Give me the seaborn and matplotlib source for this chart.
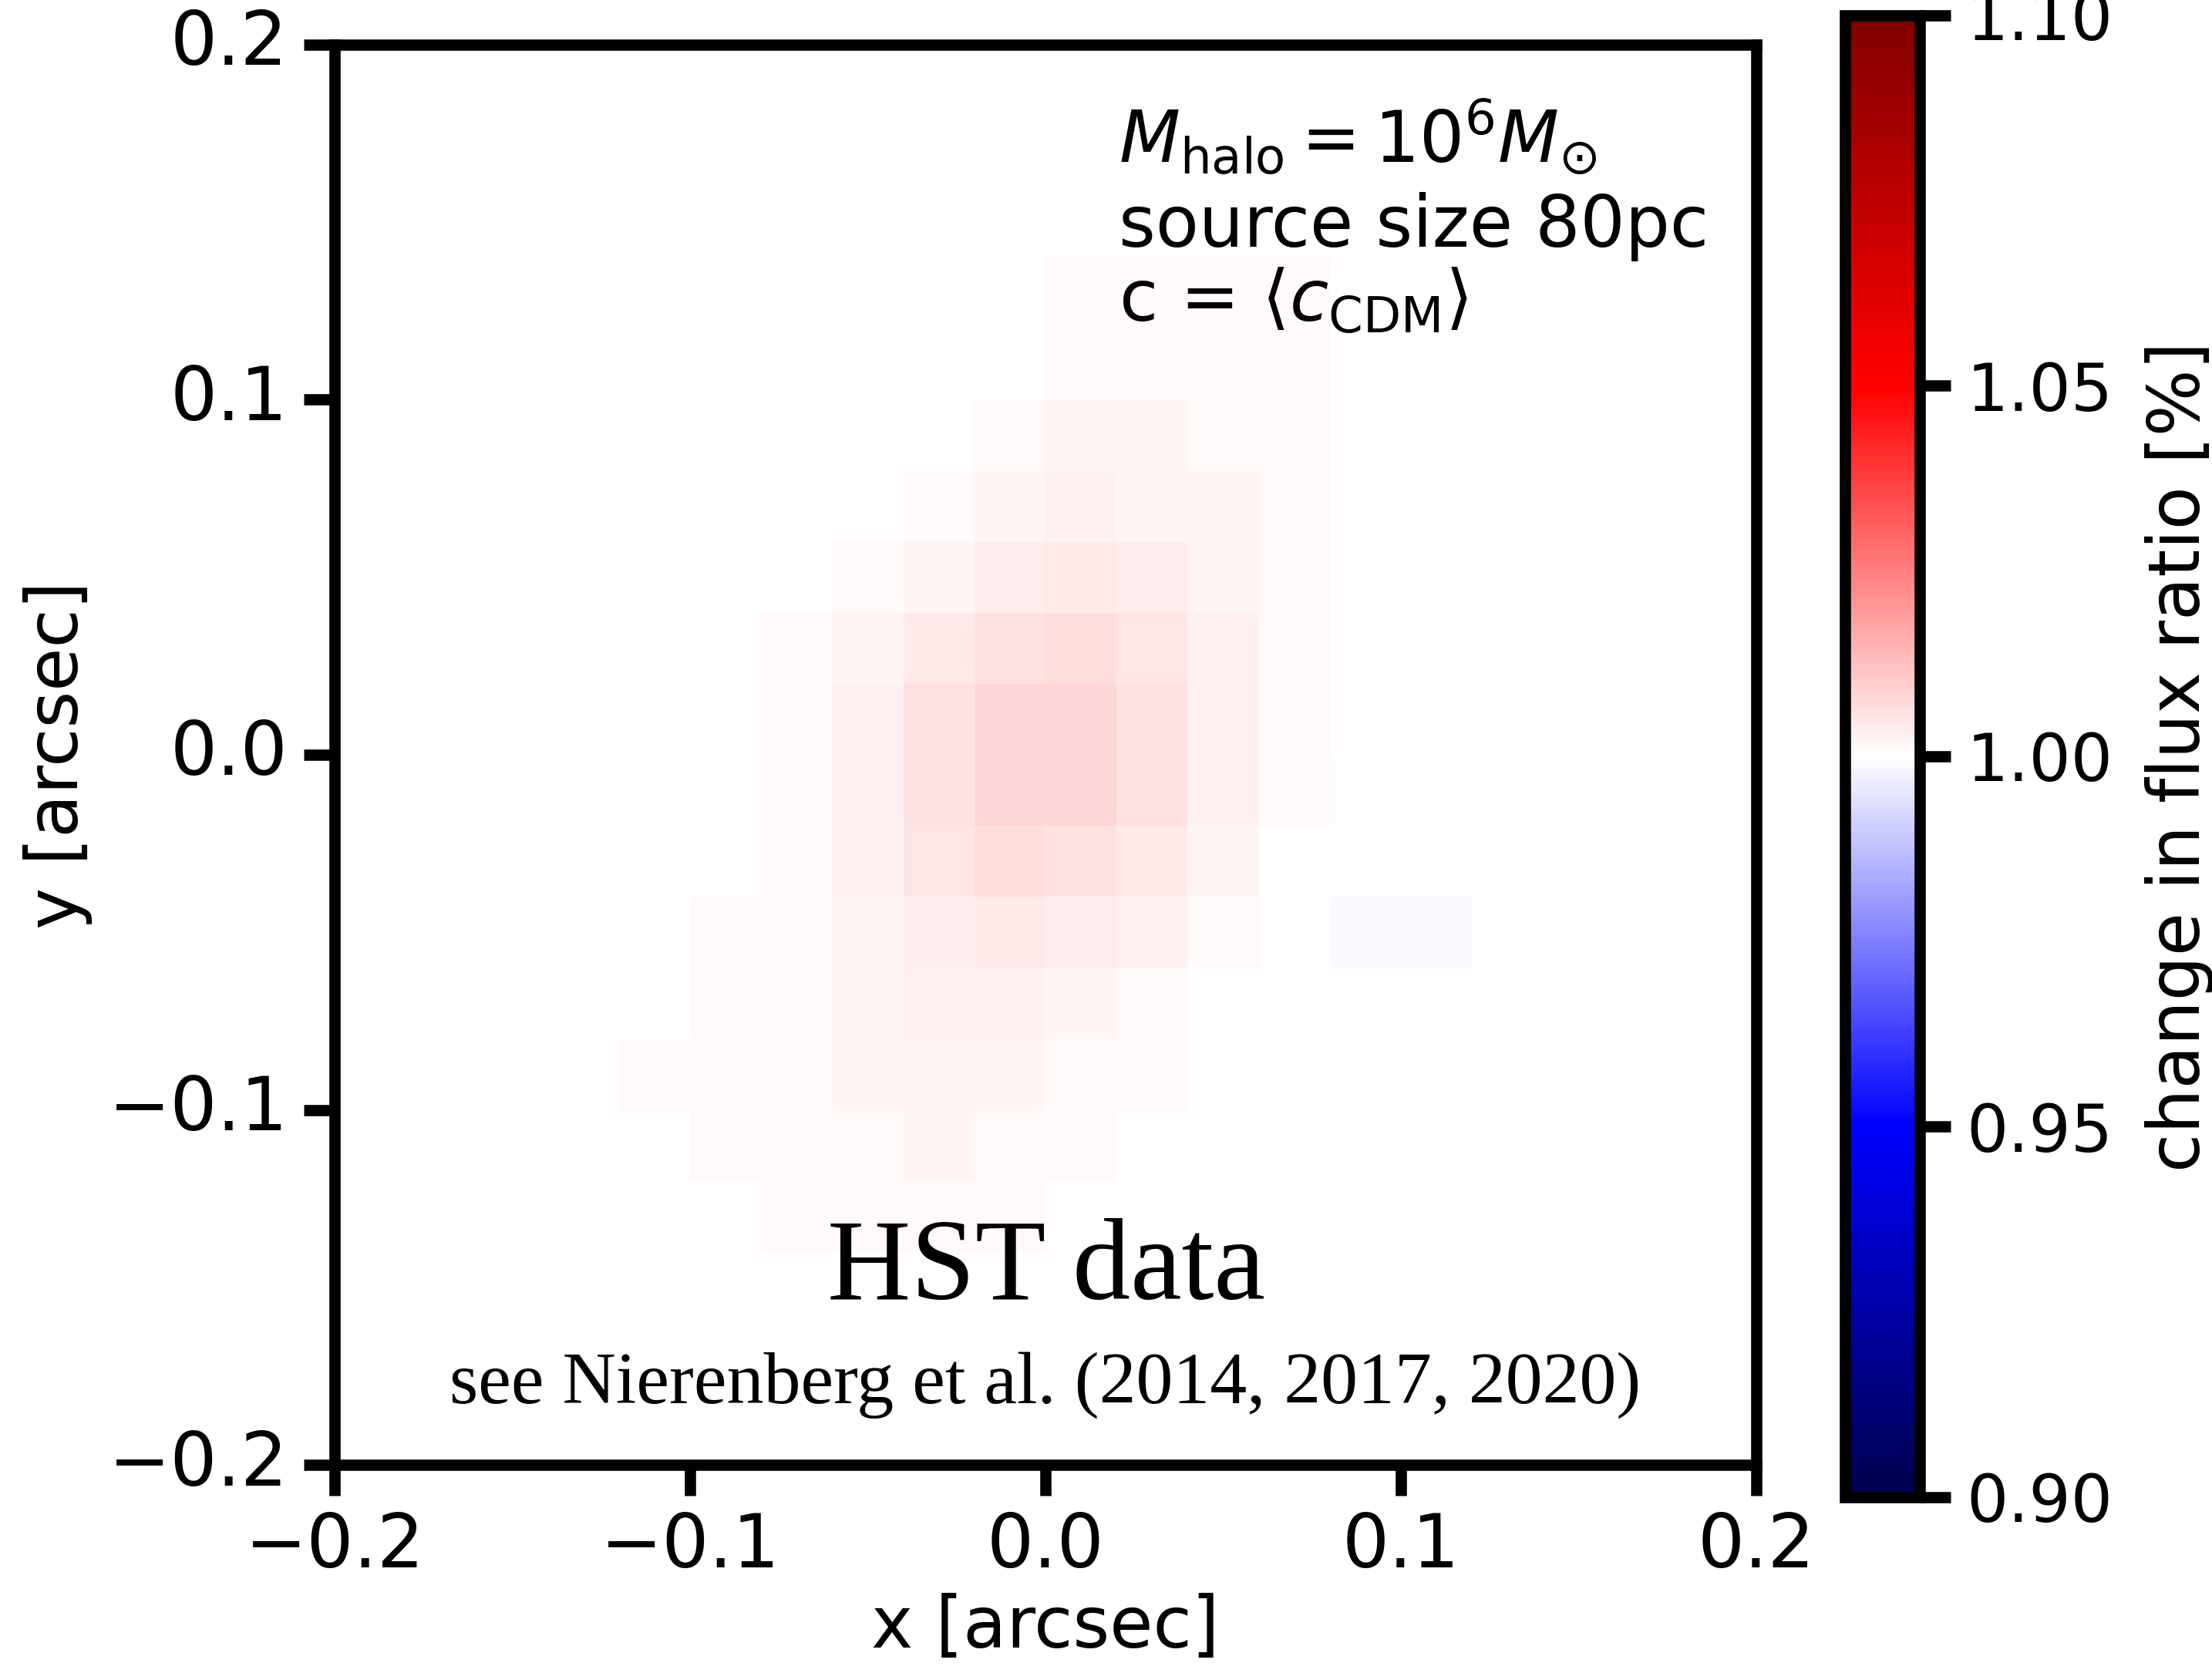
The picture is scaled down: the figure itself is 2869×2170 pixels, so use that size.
import matplotlib
matplotlib.use("Agg")
import matplotlib.pyplot as plt
from matplotlib.ticker import FormatStrFormatter
import pandas as pd
import seaborn as sns

# ---------------- data ----------------
x_centers = [-0.19, -0.17, -0.15, -0.13, -0.11, -0.09, -0.07, -0.05, -0.03, -0.01,
             0.01, 0.03, 0.05, 0.07, 0.09, 0.11, 0.13, 0.15, 0.17, 0.19]
y_centers = [0.19, 0.17, 0.15, 0.13, 0.11, 0.09, 0.07, 0.05, 0.03, 0.01,
             -0.01, -0.03, -0.05, -0.07, -0.09, -0.11, -0.13, -0.15, -0.17, -0.19]

flux_ratio = [
    [0.9996, 0.9996, 0.9996, 0.9996, 0.9996, 0.9996, 0.9996, 0.9996, 0.9997, 0.9997, 0.9997, 0.9998, 0.9998, 0.9998, 0.9998, 1.0000, 1.0000, 1.0000, 1.0000, 1.0000],
    [0.9996, 0.9996, 0.9996, 0.9996, 0.9996, 0.9996, 0.9996, 0.9996, 0.9997, 0.9997, 0.9998, 0.9999, 1.0000, 0.9999, 0.9998, 1.0001, 1.0000, 1.0000, 1.0000, 1.0000],
    [0.9996, 0.9996, 0.9996, 0.9996, 0.9996, 0.9996, 0.9996, 0.9996, 0.9999, 1.0000, 1.0002, 1.0003, 1.0003, 1.0002, 1.0001, 1.0001, 1.0000, 1.0000, 1.0000, 1.0000],
    [0.9996, 0.9996, 0.9996, 0.9996, 0.9996, 0.9996, 0.9996, 0.9996, 0.9999, 1.0005, 1.0008, 1.0010, 1.0010, 1.0008, 1.0005, 1.0001, 1.0000, 1.0000, 1.0000, 1.0000],
    [0.9996, 0.9996, 0.9996, 0.9996, 0.9996, 0.9996, 0.9996, 0.9998, 1.0005, 1.0007, 1.0011, 1.0013, 1.0012, 1.0009, 1.0005, 1.0002, 1.0000, 1.0000, 1.0000, 1.0000],
    [0.9996, 0.9996, 0.9996, 0.9996, 0.9996, 0.9996, 0.9996, 1.0004, 1.0007, 1.0011, 1.0016, 1.0017, 1.0014, 1.0009, 1.0005, 1.0002, 0.9999, 0.9999, 0.9999, 0.9999],
    [0.9996, 0.9996, 0.9996, 0.9996, 0.9996, 0.9996, 1.0000, 1.0006, 1.0012, 1.0019, 1.0025, 1.0023, 1.0017, 1.0010, 1.0005, 1.0001, 0.9998, 0.9998, 0.9998, 0.9998],
    [0.9996, 0.9996, 0.9996, 0.9996, 0.9996, 0.9996, 1.0005, 1.0011, 1.0023, 1.0036, 1.0040, 1.0033, 1.0020, 1.0010, 1.0005, 0.9997, 0.9997, 0.9997, 0.9997, 0.9997],
    [0.9997, 0.9997, 0.9997, 0.9997, 0.9997, 1.0004, 1.0008, 1.0020, 1.0040, 1.0061, 1.0064, 1.0048, 1.0026, 1.0011, 1.0002, 0.9996, 0.9996, 0.9996, 0.9996, 0.9996],
    [0.9998, 0.9998, 0.9998, 0.9998, 0.9998, 1.0005, 1.0011, 1.0027, 1.0056, 1.0082, 1.0083, 1.0059, 1.0029, 1.0012, 1.0001, 0.9996, 0.9996, 0.9996, 0.9996, 0.9996],
    [1.0001, 1.0001, 1.0001, 1.0001, 1.0001, 1.0005, 1.0012, 1.0029, 1.0059, 1.0083, 1.0082, 1.0056, 1.0027, 1.0008, 0.9998, 0.9996, 0.9996, 0.9996, 0.9996, 0.9996],
    [1.0004, 1.0004, 1.0004, 1.0004, 1.0004, 1.0006, 1.0012, 1.0027, 1.0049, 1.0065, 1.0062, 1.0041, 1.0021, 1.0003, 0.9995, 0.9994, 0.9996, 0.9996, 0.9996, 0.9996],
    [1.0007, 1.0007, 1.0007, 1.0007, 1.0007, 1.0008, 1.0013, 1.0023, 1.0036, 1.0043, 1.0039, 1.0026, 1.0010, 0.9999, 0.9990, 0.9990, 0.9996, 0.9996, 0.9996, 0.9996],
    [1.0007, 1.0007, 1.0007, 1.0007, 1.0007, 1.0008, 1.0013, 1.0020, 1.0026, 1.0028, 1.0022, 1.0015, 1.0005, 0.9998, 0.9993, 0.9993, 0.9996, 0.9996, 0.9996, 0.9996],
    [1.0007, 1.0007, 1.0007, 1.0007, 1.0008, 1.0008, 1.0012, 1.0017, 1.0020, 1.0019, 1.0014, 1.0008, 1.0004, 0.9997, 0.9997, 0.9997, 0.9997, 0.9997, 0.9997, 0.9997],
    [1.0006, 1.0006, 1.0006, 1.0006, 1.0007, 1.0008, 1.0012, 1.0015, 1.0016, 1.0014, 1.0010, 1.0006, 1.0002, 0.9997, 0.9997, 0.9997, 0.9997, 0.9997, 0.9997, 0.9997],
    [1.0003, 1.0003, 1.0003, 1.0003, 1.0006, 1.0007, 1.0010, 1.0012, 1.0012, 1.0010, 1.0007, 1.0003, 0.9997, 0.9997, 0.9997, 0.9997, 0.9997, 0.9997, 0.9997, 0.9997],
    [1.0002, 1.0002, 1.0002, 1.0002, 1.0003, 1.0005, 1.0006, 1.0007, 1.0007, 1.0006, 1.0004, 1.0002, 0.9997, 0.9997, 0.9997, 0.9997, 0.9997, 0.9997, 0.9997, 0.9997],
    [1.0002, 1.0002, 1.0002, 1.0002, 1.0002, 1.0003, 1.0004, 1.0005, 1.0004, 1.0003, 1.0002, 1.0002, 0.9997, 0.9997, 0.9997, 0.9997, 0.9997, 0.9997, 0.9997, 0.9997],
    [1.0002, 1.0002, 1.0002, 1.0002, 1.0002, 1.0003, 1.0003, 1.0003, 1.0003, 1.0002, 1.0002, 1.0002, 0.9997, 0.9997, 0.9997, 0.9997, 0.9997, 0.9997, 0.9997, 0.9997],
]

axis_ticks = [-0.2, -0.1, 0.0, 0.1, 0.2]
axis_lim = [-0.2, 0.2]
cbar_ticks = [0.90, 0.95, 1.00, 1.05, 1.10]
cbar_range = [0.90, 1.10]

annot_lines = [r"$M_{\rm halo} = 10^6 M_{\odot}$",
               "source size 80pc",
               r"c = $\langle c_{\rm CDM}\rangle$"]
title_text = "HST data"
ref_text = "see Nierenberg et al. (2014, 2017, 2020)"

# ---------------- style ----------------
plt.rcParams['font.family'] = ['DejaVu Sans']
plt.rcParams['mathtext.fontset'] = 'dejavusans'
LW = 3.5

df = pd.DataFrame(flux_ratio, index=y_centers, columns=x_centers)

fig = plt.figure(figsize=(2869 / 300, 2170 / 300), dpi=300)
ax = fig.add_axes([0.1513, 0.1244, 0.6427, 0.8489])
cax = fig.add_axes([0.8341, 0.1051, 0.0338, 0.8857])

sns.heatmap(df, ax=ax, cbar_ax=cax, cmap="seismic",
            vmin=cbar_range[0], vmax=cbar_range[1],
            xticklabels=False, yticklabels=False, linewidths=0)

n = len(x_centers)
span = axis_lim[1] - axis_lim[0]


def fmt(v):
    return f"{v:.1f}".replace("-", "\u2212")


xpos = [(t - axis_lim[0]) / span * n for t in axis_ticks]
ypos = [(axis_lim[1] - t) / span * n for t in axis_ticks]
ax.set_xticks(xpos)
ax.set_xticklabels([fmt(t) for t in axis_ticks], rotation=0)
ax.set_yticks(ypos)
ax.set_yticklabels([fmt(t) for t in axis_ticks], rotation=0, va="center")
ax.tick_params(axis="both", direction="out", length=9.5, width=LW,
               labelsize=23, pad=5, color="k", labelcolor="k",
               bottom=True, left=True)
for sp in ax.spines.values():
    sp.set_visible(True)
    sp.set_linewidth(LW)
    sp.set_color("k")

ax.set_xlabel("x [arcsec]", fontsize=22, labelpad=3)
ax.set_ylabel("y [arcsec]", fontsize=22, labelpad=5)

cb = ax.collections[0].colorbar
cb.outline.set_visible(True)
cb.outline.set_linewidth(LW)
cb.outline.set_edgecolor("k")
cb.set_ticks(cbar_ticks)
cb.ax.yaxis.set_major_formatter(FormatStrFormatter("%.2f"))
cb.ax.tick_params(length=9.5, width=LW, labelsize=20.5, pad=5, color="k")
cb.set_label("change in flux ratio [%]", fontsize=22, labelpad=10)

# annotation text
ann_y = [0.917, 0.858, 0.8055]
for s, yy in zip(annot_lines, ann_y):
    ax.text(0.5515, yy, s, transform=ax.transAxes, fontsize=22,
            ha="left", va="baseline", color="k")

ax.text(0.5006, 0.1167, title_text, transform=ax.transAxes,
        fontsize=36, family=["Liberation Serif", "DejaVu Serif"],
        ha="center", va="baseline", color="k")
ax.text(0.5, 0.0434, ref_text, transform=ax.transAxes,
        fontsize=23, family=["Liberation Serif", "DejaVu Serif"],
        ha="center", va="baseline", color="k")

fig.savefig("out.png", dpi=300)
